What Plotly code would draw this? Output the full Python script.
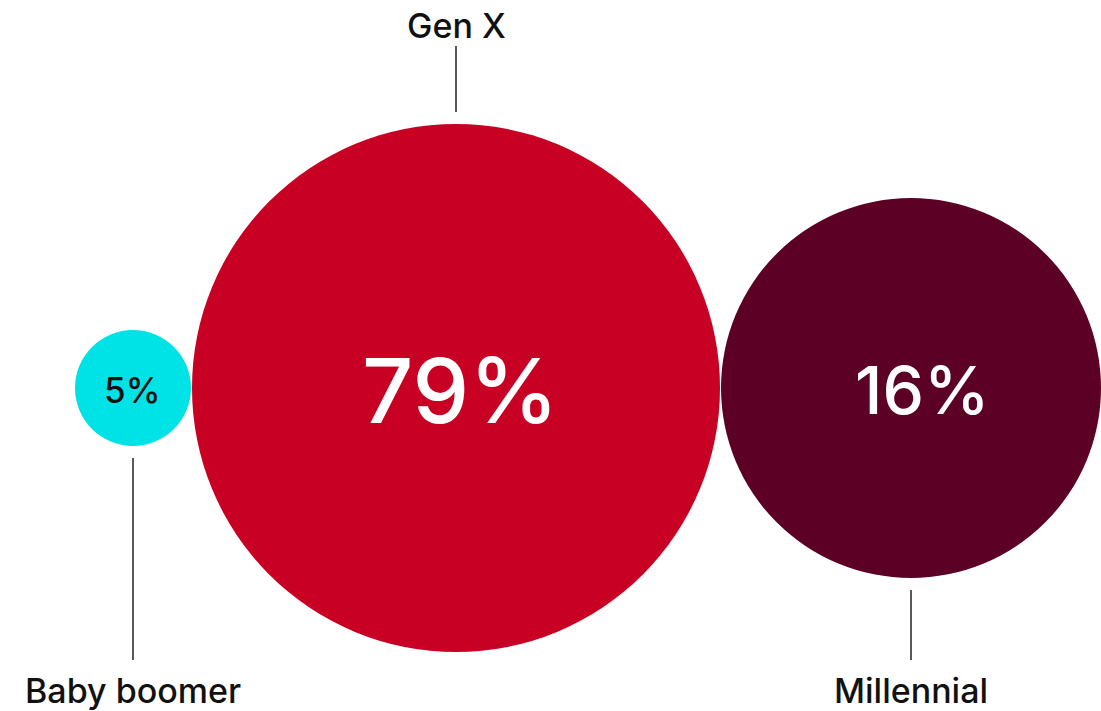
import plotly.graph_objects as go

# Data
categories = ["Baby boomer", "Gen X", "Millennial"]
shares = [5, 79, 16]
value_labels = ["5%", "79%", "16%"]

# Layout constants (pixel space)
W, H = 1101, 711
centers_x = [133, 456, 911]
center_y = 388
radii = [58, 264, 190]
colors = ["#00E3E6", "#C80024", "#5C0025"]
text_colors = ["#111111", "#FFFFFF", "#FFFFFF"]
value_sizes = [35, 90, 66]
value_dx = [-1, 4, 11]
label_pos = ["below", "above", "below"]
FONT = "Inter, Lato, sans-serif"

fig = go.Figure()
# invisible trace to set up axes
fig.add_trace(go.Scatter(x=centers_x, y=[center_y] * 3, mode="markers",
                         marker=dict(size=1, opacity=0), hoverinfo="skip",
                         showlegend=False))

shapes = []
annotations = []
for cat, lab, cx, r, col, tc, vs, dx, pos in zip(categories, value_labels, centers_x,
                                                 radii, colors, text_colors,
                                                 value_sizes, value_dx, label_pos):
    shapes.append(dict(type="circle", xref="x", yref="y",
                       x0=cx - r, x1=cx + r, y0=center_y - r, y1=center_y + r,
                       fillcolor=col, line=dict(width=0), layer="below"))
    annotations.append(dict(x=cx + dx, y=center_y + 2, text=lab,
                            showarrow=False, xref="x", yref="y",
                            font=dict(family=FONT, size=vs, color=tc, weight=500)))
    if pos == "above":
        y0, y1 = 46, center_y - r - 12
        ty = 25
    else:
        y0, y1 = center_y + r + 12, 660
        ty = 690
    shapes.append(dict(type="line", xref="x", yref="y", x0=cx, x1=cx, y0=y0, y1=y1,
                       line=dict(color="#222222", width=1.5)))
    annotations.append(dict(x=cx, y=ty, text=cat, showarrow=False, xref="x", yref="y",
                            font=dict(family=FONT, size=34, color="#111111", weight=500)))

fig.update_layout(
    width=W, height=H,
    margin=dict(l=0, r=0, t=0, b=0),
    paper_bgcolor="white", plot_bgcolor="white",
    shapes=shapes, annotations=annotations,
    xaxis=dict(range=[0, W], visible=False, fixedrange=True),
    yaxis=dict(range=[H, 0], visible=False, fixedrange=True),
    showlegend=False,
)

fig.write_html("out.html", config={"displayModeBar": False},
               post_script="document.body.style.margin='0';document.body.style.overflow='hidden';")
